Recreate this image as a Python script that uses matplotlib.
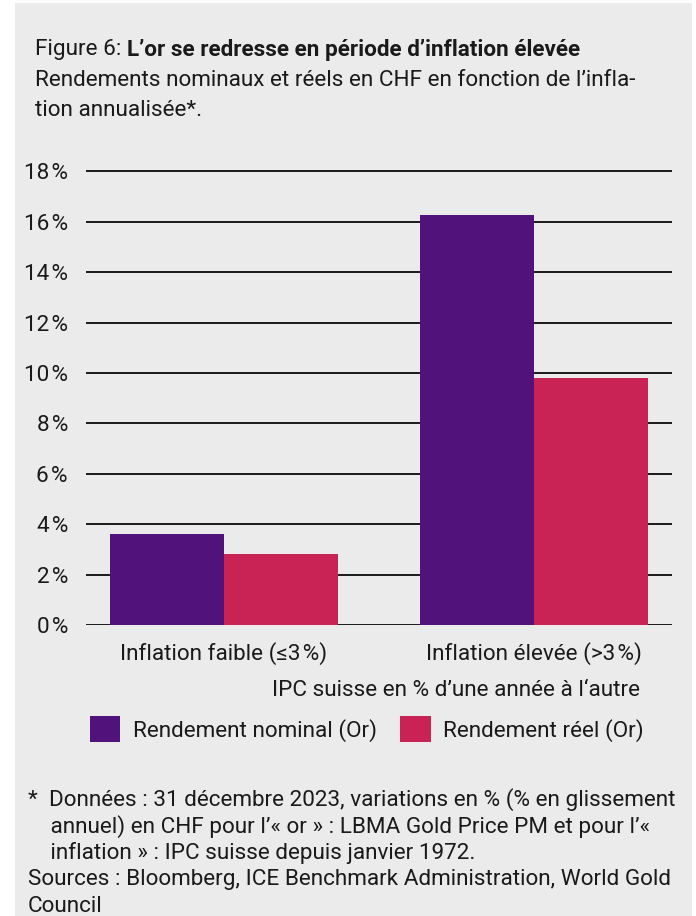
import matplotlib.pyplot as plt
from matplotlib.patches import Patch, Rectangle
import numpy as np

plt.rcParams['font.family'] = ['Roboto', 'DejaVu Sans']

categories = ['Inflation faible (≤3\u200a%)', 'Inflation élevée (>3\u200a%)']
nominal = [3.6, 16.25]
real = [2.8, 9.8]
yticks = [0, 2, 4, 6, 8, 10, 12, 14, 16, 18]

PURPLE = '#52127c'
RED = '#c92254'
BG = '#ebebeb'
INK = '#1a1a1a'
FS = 16.2

W, H = 696, 916
fig = plt.figure(figsize=(W / 100, H / 100), dpi=100)
fig.patch.set_facecolor('white')


def fx(px):
    return px / W


def fy(py):
    return 1 - py / H


# grey panel behind everything
fig.patches.append(Rectangle((fx(15), 0), fx(692) - fx(15), fy(3), transform=fig.transFigure,
                             facecolor=BG, edgecolor='none', zorder=-10))

# axes: 0 % at y=625, 25.2 px per percent
top_val = 18.3
y0 = 625
ytop = y0 - top_val * 25.2
ax = fig.add_axes([fx(86), fy(y0), fx(672) - fx(86), (y0 - ytop) / H])
ax.set_facecolor('none')

x = np.arange(len(categories))
width = 0.368
ax.bar(x - width / 2, nominal, width, color=PURPLE, zorder=3, label='Rendement nominal (Or)')
ax.bar(x + width / 2, real, width, color=RED, zorder=3, label='Rendement réel (Or)')

ax.set_xlim(-0.445, 1.445)
ax.set_ylim(0, top_val)
ax.set_yticks(yticks)
ax.set_yticklabels([f'{v}\u200a%' for v in yticks])
ax.set_xticks(x)
ax.set_xticklabels(categories)
ax.yaxis.grid(True, color=INK, linewidth=1.4, zorder=0)
ax.tick_params(axis='both', length=0, labelsize=FS, colors=INK)
ax.tick_params(axis='y', pad=13)
ax.tick_params(axis='x', pad=12)
for s in ax.spines.values():
    s.set_visible(False)

# title block
fig.canvas.draw()
r = fig.canvas.get_renderer()
t1 = fig.text(fx(35), fy(50), 'Figure 6: ', fontsize=FS, va='center', color=INK)
bb = t1.get_window_extent(renderer=r)
fig.text(bb.x1 / W, fy(50), 'L’or se redresse en période d’inflation élevée', fontsize=FS,
         fontweight='bold', va='center', color=INK)
fig.text(fx(35), fy(80), 'Rendements nominaux et réels en CHF en fonction de l’infla-',
         fontsize=FS, va='center', color=INK)
fig.text(fx(35), fy(110), 'tion annualisée*.', fontsize=FS, va='center', color=INK)

fig.text(fx(640), fy(690), 'IPC suisse en % d’une année à l‘autre', fontsize=FS,
         ha='right', va='center', color=INK)

handles, labels = ax.get_legend_handles_labels()
fig.legend(handles, labels, loc='center left', bbox_to_anchor=(fx(90), fy(729)), ncol=2,
           frameon=False, fontsize=FS, handlelength=1.35, handleheight=1.45,
           handletextpad=0.55, columnspacing=1.05, borderpad=0, borderaxespad=0,
           labelcolor=INK)

notes = ['*  Données : 31 décembre 2023, variations en % (% en glissement',
         '    annuel) en CHF pour l’« or » : LBMA Gold Price PM et pour l’«',
         '    inflation » : IPC suisse depuis janvier 1972.',
         'Sources : Bloomberg, ICE Benchmark Administration, World Gold',
         'Council']
for i, line in enumerate(notes):
    fig.text(fx(28), fy(800 + i * 26.5), line, fontsize=FS, va='center', color=INK)

fig.savefig('out.png', dpi=100, facecolor='white')
